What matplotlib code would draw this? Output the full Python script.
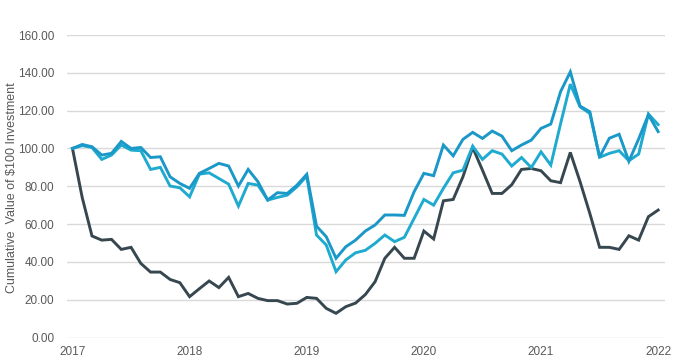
import matplotlib
matplotlib.use("Agg")
import matplotlib.pyplot as plt
import numpy as np

years = ["2017", "2018", "2019", "2020", "2021", "2022"]
y_ticks = [0, 20, 40, 60, 80, 100, 120, 140, 160]

dark_series = [100, 74, 53.7, 51.5, 51.9, 46.6, 47.7, 39.2, 34.6, 34.6,
               30.7, 29.0, 21.6, 25.8, 29.9, 26.4, 31.8, 21.6, 23.3, 20.7,
               19.5, 19.5, 17.7, 18.1, 21.2, 20.7, 15.4, 12.8, 16.3, 18.2,
               22.7, 29.5, 41.9, 47.7, 41.9, 41.9, 56.3, 52.1, 72.3, 73.0,
               85.0, 100.5, 88.5, 76.2, 76.2, 80.8, 88.9, 89.4, 88.2, 82.9,
               81.9, 97.9, 82.4, 65.6, 47.7, 47.7, 46.6, 53.8, 51.5, 63.9, 67.4]

blue_a = [100, 102.1, 100.9, 96.5, 97.4, 103.7, 100, 100.5, 95.2, 95.6,
          85.0, 81.5, 78.9, 86.8, 89.4, 92.1, 90.7, 80.1, 88.9, 82.4,
          72.7, 76.6, 76.2, 80.6, 86.3, 58.9, 53.3, 41.9, 48.0, 51.5,
          56.3, 59.5, 64.8, 64.8, 64.6, 77.1, 86.8, 85.6, 101.8, 96.1,
          104.8, 108.5, 105.3, 109.2, 106.5, 98.8, 101.8, 104.4, 110.6, 112.9,
          130.0, 140.5, 122.4, 119.4, 95.4, 105.4, 107.5, 93.2, 105.0, 117.8, 108.9]

blue_b = [100, 101.5, 100.5, 94.2, 96.5, 101.8, 99.1, 98.8, 88.9, 90.0,
          80.1, 79.2, 74.4, 86.4, 87.1, 84.1, 81.1, 69.5, 81.5, 80.6,
          72.7, 74.1, 75.3, 79.7, 85.4, 54.2, 48.9, 34.8, 41.0, 44.8,
          46.1, 49.8, 54.2, 50.7, 53.0, 63.0, 73.0, 70.0, 78.9, 87.1,
          88.5, 101.2, 94.2, 98.8, 97.0, 90.7, 95.2, 89.9, 98.2, 91.2,
          113.0, 134.0, 122.0, 118.5, 95.3, 97.4, 98.8, 93.5, 97.0, 118.2, 112.6]

plt.rcParams['font.family'] = ['Liberation Sans', 'DejaVu Sans']
text_color = "#595959"

fig = plt.figure(figsize=(6.79, 3.64), dpi=100)
ax = fig.add_axes([67/679, 1 - 337.5/364, (665 - 67)/679, (337.5 - 35)/364])

x = np.arange(len(dark_series))
ax.plot(x, dark_series, color="#37474F", lw=2.1, solid_joinstyle="miter", zorder=3)
ax.plot(x, blue_b, color="#1FAACF", lw=2.1, solid_joinstyle="miter", zorder=4)
ax.plot(x, blue_a, color="#1A98C8", lw=2.1, solid_joinstyle="miter", zorder=5)

ax.set_xlim(-0.56, 60.7)
ax.set_ylim(0, 160)
ax.set_yticks(y_ticks)
ax.set_yticklabels([f"{v:.2f}" for v in y_ticks])
ax.set_xticks(np.arange(0, 61, 12))
ax.set_xticklabels(years)

ax.grid(axis="y", color="#D9D9D9", lw=1.0)
ax.set_axisbelow(True)
for s in ax.spines.values():
    s.set_visible(False)
ax.tick_params(axis="both", length=0, labelsize=8.5, colors=text_color)
ax.tick_params(axis="y", pad=9)
ax.tick_params(axis="x", pad=6)

fig.text(12/679, 1 - 188/364, "Cumulative  Value of $100 Investment", rotation=90,
         ha="center", va="center", fontsize=9, color=text_color)

fig.savefig("out.png", dpi=100)
